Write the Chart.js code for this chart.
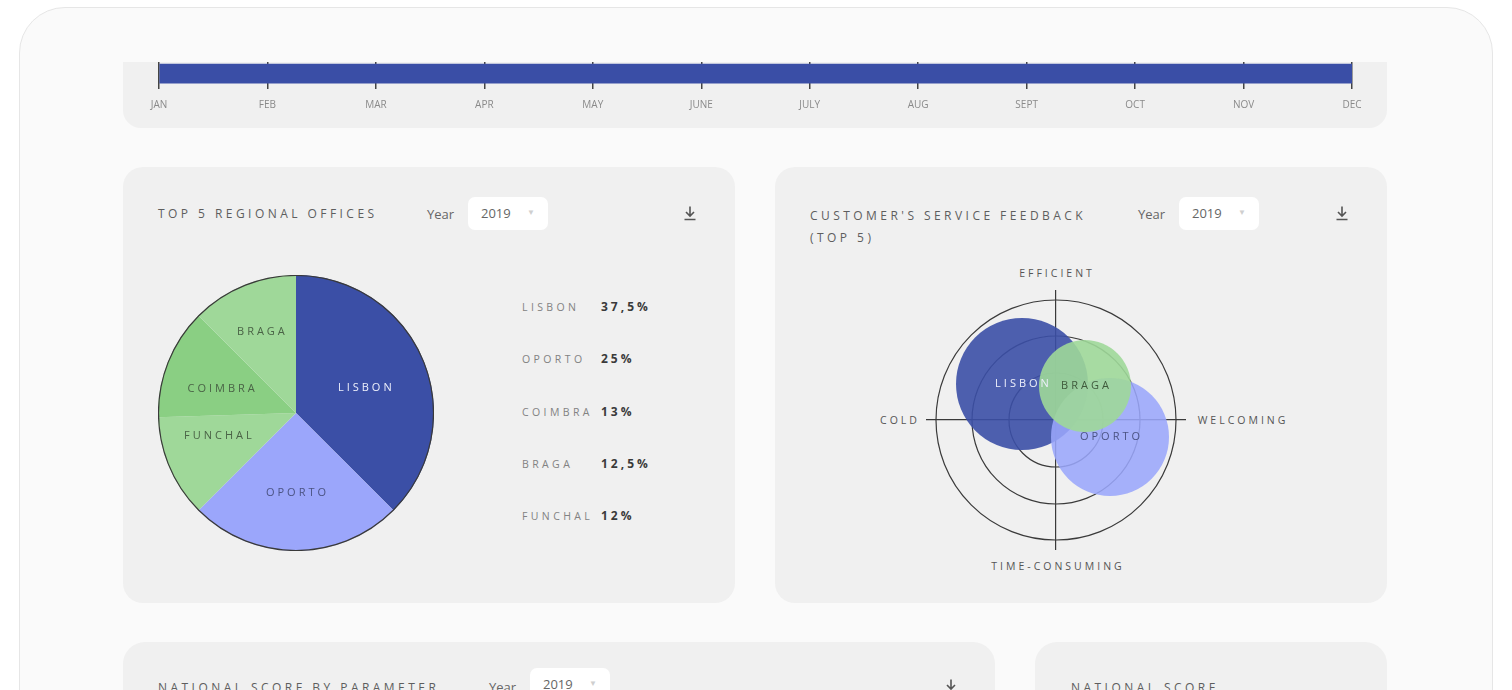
<!DOCTYPE html>
<html>
<head>
<meta charset="utf-8">
<script src="https://cdn.jsdelivr.net/npm/chart.js@4.4.1/dist/chart.umd.min.js"></script>
<style>
    html, body { margin: 0; padding: 0; background: #fff; width: 1512px; height: 690px; overflow: hidden; font-family: 'Open Sans', sans-serif; }
    .frame { position: absolute; left: 19px; top: 7px; width: 1472px; height: 760px; background: #fafafa; border: 1px solid #e6e6e6; border-radius: 46px; }
    .panel { position: absolute; background: #f0f0f0; border-radius: 20px; }
    .abs { position: absolute; }
    .title { position: absolute; font-size: 12px; letter-spacing: 3.45px; color: #5e5e5e; line-height: 22px; white-space: nowrap; }
    .year { position: absolute; font-size: 13px; color: #666; line-height: 16px; }
    .select { position: absolute; width: 80px; height: 33px; background: #fff; border-radius: 7px; font-size: 13px; color: #666; }
    .select span { position: absolute; left: 13px; top: 8px; line-height: 16px; }
    .select i { position: absolute; left: 59px; top: 9px; font-style: normal; font-size: 8px; color: #cfcfcf; }
    .dl { position: absolute; width: 14px; height: 16px; }
    .axis-lbl { position: absolute; font-size: 10.5px; letter-spacing: 3px; color: #555; white-space: nowrap; transform: translate(-50%, -50%); }
    .legend-row { position: absolute; left: 522px; height: 20px; white-space: nowrap; }
    .legend-row .n { position: absolute; left: 0; top: 3px; font-size: 10.5px; letter-spacing: 3.4px; color: #828282; }
    .legend-row .v { position: absolute; left: 79px; top: 1px; font-size: 12px; font-weight: 700; letter-spacing: 3px; color: #3a3a3a; }
    canvas { display: block; }
</style>
</head>
<body>
<div class="frame"></div>

<!-- timeline strip -->
<div class="panel" style="left:123px; top:62px; width:1264px; height:66px; border-radius:0 0 18px 18px;"></div>
<div class="abs" style="left:123px; top:62px; width:1264px; height:66px;"><canvas id="timelineChart"></canvas></div>

<!-- top 5 regional offices -->
<div class="panel" style="left:123px; top:167px; width:612px; height:436px;"></div>
<div class="title" style="left:158px; top:203px;">TOP 5 REGIONAL OFFICES</div>
<div class="year" style="left:427px; top:206px;">Year</div>
<div class="select" style="left:468px; top:197px;"><span>2019</span><i>▼</i></div>
<svg class="dl" style="left:683px; top:205px;" viewBox="0 0 14 16"><path d="M7 1.5v9.5M3 7l4 4 4-4M1.5 14.5h11" stroke="#555" stroke-width="1.6" fill="none"/></svg>
<div class="abs" style="left:158px; top:275px; width:276px; height:276px;"><canvas id="officesChart"></canvas></div>
<div id="officesLegend"></div>

<!-- customer's service feedback -->
<div class="panel" style="left:775px; top:167px; width:612px; height:436px;"></div>
<div class="title" style="left:810px; top:205px;">CUSTOMER'S SERVICE FEEDBACK<br>(TOP 5)</div>
<div class="year" style="left:1138px; top:206px;">Year</div>
<div class="select" style="left:1179px; top:197px;"><span>2019</span><i>▼</i></div>
<svg class="dl" style="left:1335px; top:205px;" viewBox="0 0 14 16"><path d="M7 1.5v9.5M3 7l4 4 4-4M1.5 14.5h11" stroke="#555" stroke-width="1.6" fill="none"/></svg>
<div class="abs" style="left:926px; top:290px; width:260px; height:260px;"><canvas id="feedbackChart"></canvas></div>
<div class="axis-lbl" style="left:1057px; top:273px;">EFFICIENT</div>
<div class="axis-lbl" style="left:1058px; top:566px;">TIME-CONSUMING</div>
<div class="axis-lbl" style="left:900px; top:420px;">COLD</div>
<div class="axis-lbl" style="left:1243px; top:420px;">WELCOMING</div>

<!-- lower panels (cut off) -->
<div class="panel" style="left:123px; top:642px; width:872px; height:200px; border-radius:22px;"></div>
<div class="title" style="left:158px; top:677px;">NATIONAL SCORE BY PARAMETER</div>
<div class="year" style="left:489px; top:679px;">Year</div>
<div class="select" style="left:530px; top:668px;"><span>2019</span><i>▼</i></div>
<svg class="dl" style="left:944px; top:678px;" viewBox="0 0 14 16"><path d="M7 1.5v9.5M3 7l4 4 4-4M1.5 14.5h11" stroke="#555" stroke-width="1.6" fill="none"/></svg>
<div class="panel" style="left:1035px; top:642px; width:352px; height:200px; border-radius:22px;"></div>
<div class="title" style="left:1071px; top:677px;">NATIONAL SCORE</div>

<script>
// ---- data ----
const months = ['JAN', 'FEB', 'MAR', 'APR', 'MAY', 'JUNE', 'JULY', 'AUG', 'SEPT', 'OCT', 'NOV', 'DEC'];
const timelineRange = [0, 11]; // selected period: Jan -> Dec

const offices = ['LISBON', 'OPORTO', 'FUNCHAL', 'COIMBRA', 'BRAGA'];
const officeShare = [37.5, 25, 12, 13, 12.5];

const feedbackCities = ['LISBON', 'OPORTO', 'BRAGA'];
const feedbackX = [-3.4, 5.4, 2.9];   // cold (-) .. welcoming (+)
const feedbackY = [3.6, -1.7, 3.4];   // time-consuming (-) .. efficient (+)
const feedbackSize = [66, 59, 46];
const ringLevels = [4.7, 8.4, 12];

// ---- styles ----
const officeColors = ['#3b4fa6', '#9ba6fb', '#9fd899', '#8acf83', '#9fd899'];
const officeLabelColors = ['#eef0fb', '#4b5383', '#4a6346', '#4a6346', '#4a6346'];
const officeLabelT = [0.52, 0.5, 0.66, 0.42, 0.48];
const officeLabelR = [0.53, 0.58, 0.59, 0.57, 0.64];
const feedbackColors = ['rgba(59,79,166,0.9)', 'rgba(154,166,251,0.88)', 'rgba(159,216,153,0.9)'];
const feedbackLabelColors = ['#eef0fb', '#4b5383', '#3f5a3c'];

Chart.defaults.font.family = "'Open Sans', sans-serif";
Chart.defaults.animation = false;

// Timeline strip: chart area runs a little below the bar so the
// grid lines show as tick marks under it
new Chart(document.getElementById('timelineChart'), {
    type: 'bar',
    data: {
        datasets: [{
            data: [{ y: 0, x: timelineRange }],
            backgroundColor: '#3a4ea6',
            barThickness: 19,
            borderSkipped: false
        }]
    },
    options: {
        indexAxis: 'y',
        responsive: true,
        maintainAspectRatio: false,
        layout: { padding: { left: 36, right: 35, top: 0, bottom: 13 } },
        plugins: { legend: { display: false }, tooltip: { enabled: false } },
        scales: {
            x: {
                type: 'linear',
                min: 0,
                max: 11,
                ticks: {
                    stepSize: 1,
                    callback: v => months[v],
                    color: '#8a8a8a',
                    font: { size: 10 },
                    padding: 11,
                    maxRotation: 0,
                    autoSkip: false
                },
                grid: { drawTicks: false, color: '#444', lineWidth: 1.5 },
                border: { display: false }
            },
            y: { type: 'linear', display: false, reverse: true, min: -0.5, max: 0.82 }
        }
    }
});

// Regional offices pie
const pieLabels = {
    id: 'pieLabels',
    afterDatasetsDraw(chart) {
        const { ctx } = chart;
        const arcs = chart.getDatasetMeta(0).data;
        ctx.save();
        // outer rim
        const a0 = arcs[0];
        ctx.beginPath();
        ctx.arc(a0.x, a0.y, a0.outerRadius - 0.5, 0, Math.PI * 2);
        ctx.strokeStyle = '#3a3a3a';
        ctx.lineWidth = 1.2;
        ctx.stroke();
        ctx.font = "11px 'Open Sans', sans-serif";
        ctx.letterSpacing = '3px';
        ctx.textAlign = 'center';
        ctx.textBaseline = 'middle';
        arcs.forEach((arc, i) => {
            const ang = arc.startAngle + (arc.endAngle - arc.startAngle) * officeLabelT[i];
            const r = arc.outerRadius * officeLabelR[i];
            ctx.fillStyle = officeLabelColors[i];
            ctx.fillText(offices[i], arc.x + Math.cos(ang) * r + 1.5, arc.y + Math.sin(ang) * r);
        });
        ctx.restore();
    }
};

new Chart(document.getElementById('officesChart'), {
    type: 'pie',
    data: {
        labels: offices,
        datasets: [{
            data: officeShare,
            backgroundColor: officeColors,
            borderWidth: 0
        }]
    },
    options: {
        responsive: true,
        maintainAspectRatio: false,
        plugins: { legend: { display: false }, tooltip: { enabled: false } }
    },
    plugins: [pieLabels]
});

// legend list, sorted by share
const legendDiv = document.getElementById('officesLegend');
offices.map((name, i) => ({ name, value: officeShare[i] }))
    .sort((a, b) => b.value - a.value)
    .forEach((o, i) => {
        legendDiv.innerHTML += `
            <div class="legend-row" style="top:${297 + i * 52.3}px;">
                <span class="n">${o.name}</span>
                <span class="v">${String(o.value).replace('.', ',')}%</span>
            </div>`;
    });

// Customer feedback bubbles
const feedbackDecor = {
    id: 'feedbackDecor',
    beforeDatasetsDraw(chart) {
        const { ctx, scales: { x, y } } = chart;
        const cx = x.getPixelForValue(0);
        const cy = y.getPixelForValue(0);
        ctx.save();
        ctx.strokeStyle = '#3a3a3a';
        ctx.lineWidth = 1.2;
        ringLevels.forEach(level => {
            ctx.beginPath();
            ctx.arc(cx, cy, x.getPixelForValue(level) - cx, 0, Math.PI * 2);
            ctx.stroke();
        });
        ctx.restore();
    },
    afterDatasetsDraw(chart) {
        const { ctx } = chart;
        ctx.save();
        ctx.font = "11px 'Open Sans', sans-serif";
        ctx.letterSpacing = '3px';
        ctx.textAlign = 'center';
        ctx.textBaseline = 'middle';
        chart.getDatasetMeta(0).data.forEach((pt, i) => {
            ctx.fillStyle = feedbackLabelColors[i];
            ctx.fillText(feedbackCities[i], pt.x + 1.5, pt.y);
        });
        ctx.restore();
    }
};

new Chart(document.getElementById('feedbackChart'), {
    type: 'bubble',
    data: {
        labels: feedbackCities,
        datasets: [{
            data: feedbackCities.map((c, i) => ({ x: feedbackX[i], y: feedbackY[i], r: feedbackSize[i] })),
            backgroundColor: feedbackColors,
            borderWidth: 0,
            clip: false
        }]
    },
    options: {
        responsive: true,
        maintainAspectRatio: false,
        layout: { padding: 0, autoPadding: false },
        plugins: { legend: { display: false }, tooltip: { enabled: false } },
        scales: {
            x: {
                min: -13, max: 13,
                ticks: { display: false, stepSize: 13 },
                grid: { drawTicks: false, lineWidth: 1.2, color: c => c.tick && c.tick.value === 0 ? '#3a3a3a' : 'rgba(0,0,0,0)' },
                border: { display: false }
            },
            y: {
                min: -13, max: 13,
                ticks: { display: false, stepSize: 13 },
                grid: { drawTicks: false, lineWidth: 1.2, color: c => c.tick && c.tick.value === 0 ? '#3a3a3a' : 'rgba(0,0,0,0)' },
                border: { display: false }
            }
        }
    },
    plugins: [feedbackDecor]
});
</script>
</body>
</html>
